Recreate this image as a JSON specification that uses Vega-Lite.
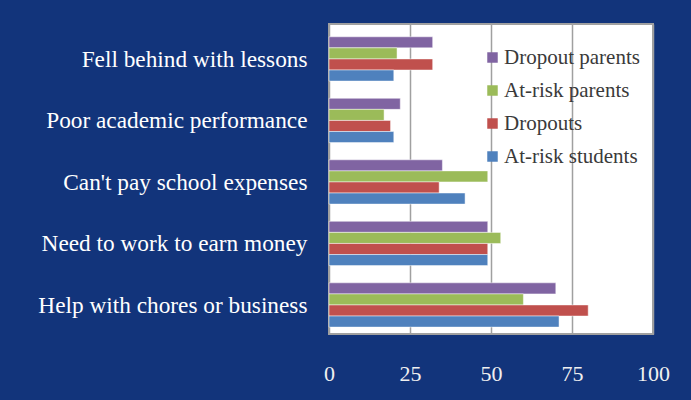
{
  "$schema": "https://vega.github.io/schema/vega-lite/v6.json",
  "autosize": {"type": "none"},
  "width": 324,
  "height": 310,
  "padding": {"left": 329, "top": 24, "right": 38, "bottom": 66},
  "background": "#12347B",
  "config": {
    "view": {"fill": "#ffffff", "stroke": "#A0A0A0", "strokeWidth": 2},
    "font": "Liberation Serif"
  },
  "data": {
    "values": [
      {"reason": "Fell behind with lessons", "group": "Dropout parents", "pct": 32},
      {"reason": "Fell behind with lessons", "group": "At-risk parents", "pct": 21},
      {"reason": "Fell behind with lessons", "group": "Dropouts", "pct": 32},
      {"reason": "Fell behind with lessons", "group": "At-risk students", "pct": 20},
      {"reason": "Poor academic performance", "group": "Dropout parents", "pct": 22},
      {"reason": "Poor academic performance", "group": "At-risk parents", "pct": 17},
      {"reason": "Poor academic performance", "group": "Dropouts", "pct": 19},
      {"reason": "Poor academic performance", "group": "At-risk students", "pct": 20},
      {"reason": "Can't pay school expenses", "group": "Dropout parents", "pct": 35},
      {"reason": "Can't pay school expenses", "group": "At-risk parents", "pct": 49},
      {"reason": "Can't pay school expenses", "group": "Dropouts", "pct": 34},
      {"reason": "Can't pay school expenses", "group": "At-risk students", "pct": 42},
      {"reason": "Need to work to earn money", "group": "Dropout parents", "pct": 49},
      {"reason": "Need to work to earn money", "group": "At-risk parents", "pct": 53},
      {"reason": "Need to work to earn money", "group": "Dropouts", "pct": 49},
      {"reason": "Need to work to earn money", "group": "At-risk students", "pct": 49},
      {"reason": "Help with chores or business", "group": "Dropout parents", "pct": 70},
      {"reason": "Help with chores or business", "group": "At-risk parents", "pct": 60},
      {"reason": "Help with chores or business", "group": "Dropouts", "pct": 80},
      {"reason": "Help with chores or business", "group": "At-risk students", "pct": 71}
    ]
  },
  "mark": {"type": "bar", "stroke": "#ffffff", "strokeWidth": 0.8, "strokeOpacity": 0.6},
  "encoding": {
    "y": {
      "field": "reason",
      "type": "nominal",
      "sort": ["Fell behind with lessons", "Poor academic performance", "Can't pay school expenses", "Need to work to earn money", "Help with chores or business"],
      "scale": {"paddingInner": 0.28, "paddingOuter": 0.16, "align": 0.65},
      "axis": {
        "title": null, "ticks": false, "domain": false, "grid": false,
        "labelFontSize": 23.3, "labelColor": "#FFFFFF", "labelPadding": 22,
        "labelFont": "Liberation Serif", "labelLimit": 400, "labelOffset": 1
      }
    },
    "yOffset": {
      "field": "group",
      "type": "nominal",
      "sort": ["Dropout parents", "At-risk parents", "Dropouts", "At-risk students"],
      "scale": {"paddingInner": 0, "paddingOuter": 0}
    },
    "x": {
      "field": "pct",
      "type": "quantitative",
      "scale": {"domain": [0, 100], "nice": false},
      "axis": {
        "title": null, "values": [0, 25, 50, 75, 100], "ticks": false, "domain": false,
        "grid": true, "gridColor": "#A0A0A0", "gridWidth": 1.5,
        "labelFontSize": 22, "labelColor": "#F0F0F0", "labelPadding": 29, "labelFlush": false,
        "labelFont": "Liberation Serif"
      }
    },
    "color": {
      "field": "group",
      "type": "nominal",
      "scale": {
        "domain": ["Dropout parents", "At-risk parents", "Dropouts", "At-risk students"],
        "range": ["#8064A2", "#9BBB59", "#C0504D", "#4F81BD"]
      },
      "legend": {
        "title": null, "orient": "none", "legendX": 153, "legendY": 23,
        "symbolType": "square", "symbolSize": 110, "symbolStrokeWidth": 0, "symbolOpacity": 1,
        "labelFont": "Liberation Serif", "labelFontSize": 21, "labelColor": "#3A3A3A",
        "rowPadding": 11, "labelOffset": 1
      }
    }
  }
}
